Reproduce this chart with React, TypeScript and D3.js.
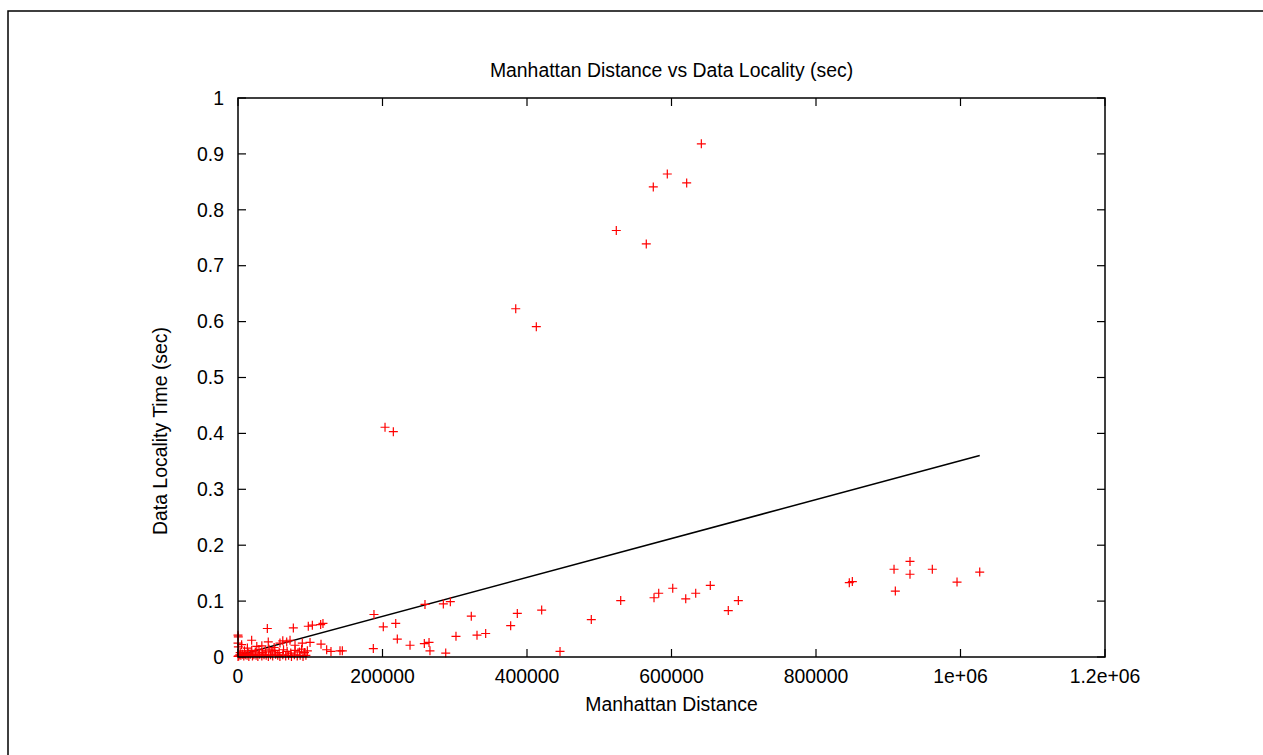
import React from "react";
import * as d3 from "d3";

const title = "Manhattan Distance vs Data Locality (sec)";
const xLabel = "Manhattan Distance";
const yLabel = "Data Locality Time (sec)";

const xTicks = [0, 200000, 400000, 600000, 800000, 1000000, 1200000];
const xTickLabels = ["0", "200000", "400000", "600000", "800000", "1e+06", "1.2e+06"];
const yTicks = [0, 0.1, 0.2, 0.3, 0.4, 0.5, 0.6, 0.7, 0.8, 0.9, 1];
const yTickLabels = ["0", "0.1", "0.2", "0.3", "0.4", "0.5", "0.6", "0.7", "0.8", "0.9", "1"];

// scattered points: [distance, seconds]
const highPoints: [number, number][] = [
  [641300, 0.918], [594200, 0.864], [621000, 0.848], [574800, 0.841],
  [523600, 0.763], [565100, 0.739], [384400, 0.623], [412900, 0.591],
  [203500, 0.411], [215000, 0.403],
];
const farPoints: [number, number][] = [
  [529700, 0.101], [575800, 0.106], [582300, 0.114], [601700, 0.123],
  [619700, 0.104], [633500, 0.114], [653700, 0.128], [678600, 0.083],
  [692500, 0.101], [846100, 0.133], [850300, 0.135], [908000, 0.157],
  [909800, 0.118], [930100, 0.171], [930100, 0.148], [961000, 0.157],
  [995200, 0.134], [1026600, 0.152],
];
const midPoints: [number, number][] = [
  [188200, 0.076], [201100, 0.054], [218300, 0.060], [220500, 0.032],
  [187300, 0.015], [238100, 0.021], [258800, 0.094], [257900, 0.024],
  [264400, 0.026], [265700, 0.011], [287500, 0.007], [284200, 0.095],
  [293900, 0.099], [301700, 0.037], [322900, 0.073], [330800, 0.039],
  [342800, 0.042], [377400, 0.056], [386600, 0.078], [420300, 0.084],
  [445700, 0.010], [489000, 0.067],
];
const nearPoints: [number, number][] = [
  [400, 0.036], [0, 0.039], [0, 0.025], [500, 0.018], [40600, 0.051],
  [76600, 0.052], [97300, 0.055], [102900, 0.057], [114400, 0.058],
  [117600, 0.060], [122700, 0.013], [128700, 0.010], [141200, 0.011],
  [144400, 0.011], [5000, 0.022], [13000, 0.016], [18900, 0.030],
  [26000, 0.019], [33000, 0.020], [41900, 0.027], [50000, 0.017],
  [58100, 0.025], [62000, 0.029], [67400, 0.027], [72000, 0.030],
  [78900, 0.021], [89000, 0.025], [99700, 0.026], [114900, 0.023],
  [3000, 0.008], [9000, 0.011], [14000, 0.007], [19000, 0.012],
  [24000, 0.009], [29000, 0.013], [34000, 0.008], [38000, 0.011],
  [43000, 0.014], [47000, 0.009], [51000, 0.012], [57000, 0.008],
  [63000, 0.013], [68000, 0.010], [73000, 0.007], [79000, 0.012],
  [85000, 0.009], [88000, 0.014], [92000, 0.008], [96000, 0.011],
  [0, 0.001], [1000, 0.002], [2500, 0.004], [4000, 0.003], [6000, 0.005],
  [8000, 0.002], [10000, 0.004], [12500, 0.003], [15000, 0.001],
  [17000, 0.005], [20000, 0.002], [22000, 0.004], [25000, 0.003],
  [27500, 0.001], [30000, 0.005], [33000, 0.002], [36000, 0.004],
  [39000, 0.003], [42000, 0.001], [45000, 0.004], [48000, 0.002],
  [52000, 0.005], [55000, 0.003], [58000, 0.001], [62000, 0.004],
  [66000, 0.002], [70000, 0.003], [74000, 0.001], [78000, 0.004],
  [82000, 0.002], [86000, 0.003], [90000, 0.001], [94000, 0.003],
];
const points = [...highPoints, ...farPoints, ...midPoints, ...nearPoints];

// fitted line endpoints
const fitX = [0, 1026600];
const fitY = [0.003, 0.3605];

const W = 1263;
const H = 755;
const L = 238, R = 1105, T = 98, B = 657;
const FONT = "'Liberation Sans', Arial, Helvetica, sans-serif";
const FS = 19.4;

export default function App() {
  const x = d3.scaleLinear().domain([0, 1200000]).range([L, R]);
  const y = d3.scaleLinear().domain([0, 1]).range([B, T]);
  const line = d3.line<number>().x((d) => x(fitX[d])).y((d) => y(fitY[d]));
  const tick = 8;
  return (
    <svg
      width={W}
      height={H}
      style={{ position: "absolute", left: 0, top: 0, background: "#fff" }}
      fontFamily={FONT}
    >
      <rect x={0} y={0} width={W} height={H} fill="#fff" />
      <rect x={8} y={11} width={W + 50} height={H + 50} fill="none" stroke="#000" strokeWidth={1.5} />
      {/* ticks */}
      {xTicks.map((t, i) => (
        <g key={"xt" + i}>
          <line x1={x(t)} x2={x(t)} y1={B} y2={B - tick} stroke="#000" strokeWidth={1.2} />
          <line x1={x(t)} x2={x(t)} y1={T} y2={T + tick} stroke="#000" strokeWidth={1.2} />
          <text x={x(t)} y={683} textAnchor="middle" fontSize={FS} fill="#000">
            {xTickLabels[i]}
          </text>
        </g>
      ))}
      {yTicks.map((t, i) => (
        <g key={"yt" + i}>
          <line x1={L} x2={L + tick} y1={y(t)} y2={y(t)} stroke="#000" strokeWidth={1.2} />
          <line x1={R} x2={R - tick} y1={y(t)} y2={y(t)} stroke="#000" strokeWidth={1.2} />
          <text x={224} y={y(t)} dy="0.35em" textAnchor="end" fontSize={FS} fill="#000">
            {yTickLabels[i]}
          </text>
        </g>
      ))}
      {/* fit line */}
      <path d={line([0, 1]) || ""} fill="none" stroke="#000" strokeWidth={1.5} />
      {/* points */}
      {points.map((p, i) => {
        const cx = x(p[0]);
        const cy = y(p[1]);
        return (
          <path
            key={"p" + i}
            d={`M${cx - 4.5},${cy}H${cx + 4.5}M${cx},${cy - 4.5}V${cy + 4.5}`}
            stroke="#ff0000"
            strokeWidth={1.2}
            fill="none"
          />
        );
      })}
      {/* plot border */}
      <rect x={L} y={T} width={R - L} height={B - T} fill="none" stroke="#000" strokeWidth={1.5} />
      {/* texts */}
      <text x={(L + R) / 2} y={77} textAnchor="middle" fontSize={FS} fill="#000">
        {title}
      </text>
      <text x={(L + R) / 2} y={711} textAnchor="middle" fontSize={FS} fill="#000">
        {xLabel}
      </text>
      <text transform="translate(167,431) rotate(-90)" textAnchor="middle" fontSize={FS} fill="#000">
        {yLabel}
      </text>
    </svg>
  );
}
